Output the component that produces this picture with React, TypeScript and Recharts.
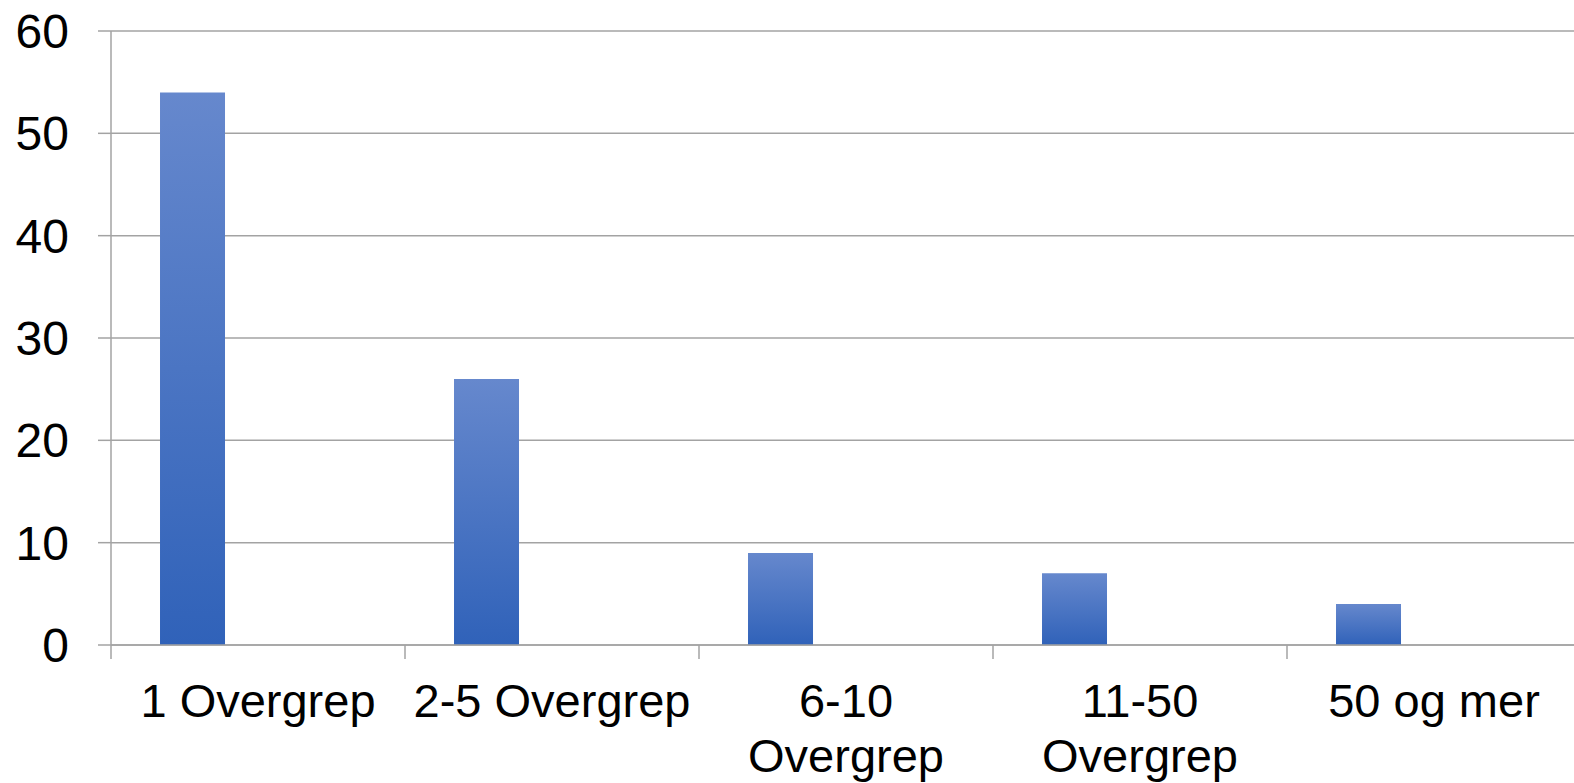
import React from "react";
import { BarChart, Bar, XAxis, YAxis, CartesianGrid } from "recharts";

// "\n" marks where the original wraps the category label
const categories = [
  "1 Overgrep",
  "2-5 Overgrep",
  "6-10\nOvergrep",
  "11-50\nOvergrep",
  "50 og mer",
];
const series1 = [54, 26, 9, 7, 4];
// the original has two more (empty) series in each group
const series2 = [null, null, null, null, null];
const series3 = [null, null, null, null, null];
const yTicks = [0, 10, 20, 30, 40, 50, 60];

const data = categories.map((name, i) => ({
  name,
  s1: series1[i],
  s2: series2[i],
  s3: series3[i],
}));

const FONT = '"Liberation Sans", Arial, sans-serif';
const GRID = "#a3a3a3";

const CategoryTick = (props: any) => {
  const { x, y, payload, width, visibleTicksCount } = props;
  const half = width / visibleTicksCount / 2;
  const lineTop = y - 39;
  const lines = String(payload.value).split("\n");
  return (
    <g>
      <line
        x1={x - half}
        x2={x - half}
        y1={lineTop}
        y2={lineTop + 14}
        stroke={GRID}
        strokeWidth={1.5}
      />
      <text
        x={x}
        y={y}
        textAnchor="middle"
        fontSize={47}
        fontFamily={FONT}
        fill="#000"
      >
        {lines.map((line, i) => (
          <tspan key={i} x={x} dy={i === 0 ? "0.71em" : 55}>
            {line}
          </tspan>
        ))}
      </text>
    </g>
  );
};

export default function App() {
  return (
    <div
      style={{
        position: "fixed",
        left: 0,
        top: 0,
        width: 1574,
        height: 783,
        overflow: "hidden",
        background: "#fff",
      }}
    >
      <BarChart
        width={1581}
        height={783}
        data={data}
        margin={{ top: 31, right: 0, bottom: 0, left: 0 }}
        barGap={0}
        barCategoryGap="16.67%"
      >
        <defs>
          <linearGradient id="barFill" x1="0" y1="0" x2="0" y2="1">
            <stop offset="0%" stopColor="#6688cd" />
            <stop offset="100%" stopColor="#3062b9" />
          </linearGradient>
        </defs>
        <CartesianGrid vertical={false} stroke={GRID} strokeWidth={1.5} />
        <XAxis
          dataKey="name"
          height={138}
          interval={0}
          tickSize={14}
          tickMargin={25}
          tickLine={false}
          axisLine={{ stroke: GRID, strokeWidth: 1.5 }}
          tick={<CategoryTick />}
        />
        <YAxis
          width={111}
          domain={[0, 60]}
          ticks={yTicks}
          interval={0}
          tickSize={13}
          tickMargin={29}
          axisLine={{ stroke: GRID, strokeWidth: 1.5 }}
          tickLine={{ stroke: GRID, strokeWidth: 1.5 }}
          tick={{ fontSize: 48, fontFamily: FONT, fill: "#000" }}
        />
        <Bar dataKey="s1" fill="url(#barFill)" isAnimationActive={false} />
        <Bar dataKey="s2" fill="#c0504d" isAnimationActive={false} />
        <Bar dataKey="s3" fill="#9bbb59" isAnimationActive={false} />
      </BarChart>
    </div>
  );
}
